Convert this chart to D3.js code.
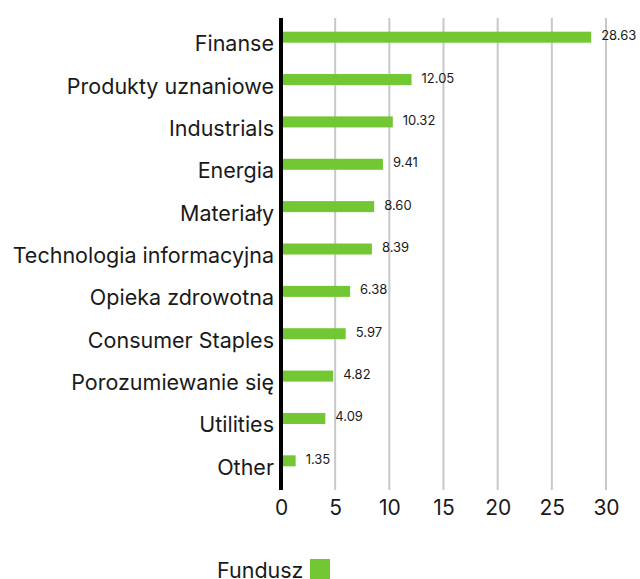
<!DOCTYPE html>
<html>
<head>
<meta charset="utf-8">
<script src="https://cdnjs.cloudflare.com/ajax/libs/d3/7.8.5/d3.min.js"></script>
<style>
  body { margin: 0; background: #fff; }
  text { font-family: Inter, "Noto Sans", sans-serif; fill: #1a1a1a; }
</style>
</head>
<body>
<svg id="chart" width="640" height="579"></svg>
<script>
// sector weights, fund
const categories = ["Finanse", "Produkty uznaniowe", "Industrials", "Energia", "Materiały",
  "Technologia informacyjna", "Opieka zdrowotna", "Consumer Staples", "Porozumiewanie się",
  "Utilities", "Other"];
const values = [28.63, 12.05, 10.32, 9.41, 8.60, 8.39, 6.38, 5.97, 4.82, 4.09, 1.35];
const valueLabels = ["28.63", "12.05", "10.32", "9.41", "8.60", "8.39", "6.38", "5.97", "4.82", "4.09", "1.35"];
const xTicks = [0, 5, 10, 15, 20, 25, 30];
const seriesName = "Fundusz";

const green = "#72c732";
const svg = d3.select("#chart");

const x = d3.scaleLinear().domain([0, 30]).range([281, 606]);
const y = d3.scaleBand().domain(categories).range([16, 482]).paddingInner(0.74).paddingOuter(0.37);

// grid
svg.append("g").selectAll("line")
  .data(xTicks.slice(1))
  .enter().append("line")
  .attr("x1", d => x(d)).attr("x2", d => x(d))
  .attr("y1", 18).attr("y2", 490)
  .attr("stroke", "#c8c8c8").attr("stroke-width", 2);

// bars
svg.append("g").selectAll("rect")
  .data(values)
  .enter().append("rect")
  .attr("x", x(0))
  .attr("y", (d, i) => y(categories[i]))
  .attr("width", d => x(d) - x(0))
  .attr("height", y.bandwidth())
  .attr("fill", green);

// value labels
svg.append("g").selectAll("text")
  .data(values)
  .enter().append("text")
  .attr("x", d => x(d) + 10)
  .attr("y", (d, i) => y(categories[i]) + y.bandwidth() / 2 + 3)
  .style("font-size", "13px")
  .text((d, i) => valueLabels[i]);

// category labels
svg.append("g").selectAll("text")
  .data(categories)
  .enter().append("text")
  .attr("x", 274)
  .attr("y", d => y(d) + y.bandwidth() / 2 + 14)
  .attr("text-anchor", "end")
  .style("font-size", "21.5px")
  .text(d => d);

// axis
const xAxis = d3.axisBottom(x).tickValues(xTicks).tickSize(0).tickPadding(0);
const gx = svg.append("g").attr("transform", "translate(0,515)").call(xAxis);
gx.select(".domain").remove();
gx.selectAll("text").style("font-size", "21px").attr("dy", 0).attr("y", 0)
  .style("font-family", "Inter").attr("fill", "#1a1a1a");

// zero line
svg.append("line")
  .attr("x1", x(0)).attr("x2", x(0))
  .attr("y1", 18).attr("y2", 490)
  .attr("stroke", "#000").attr("stroke-width", 4);

// legend
svg.append("text").attr("x", 217).attr("y", 578).style("font-size", "21.5px").text(seriesName);
svg.append("rect").attr("x", 310).attr("y", 559).attr("width", 20).attr("height", 20).attr("fill", green);
</script>
</body>
</html>
